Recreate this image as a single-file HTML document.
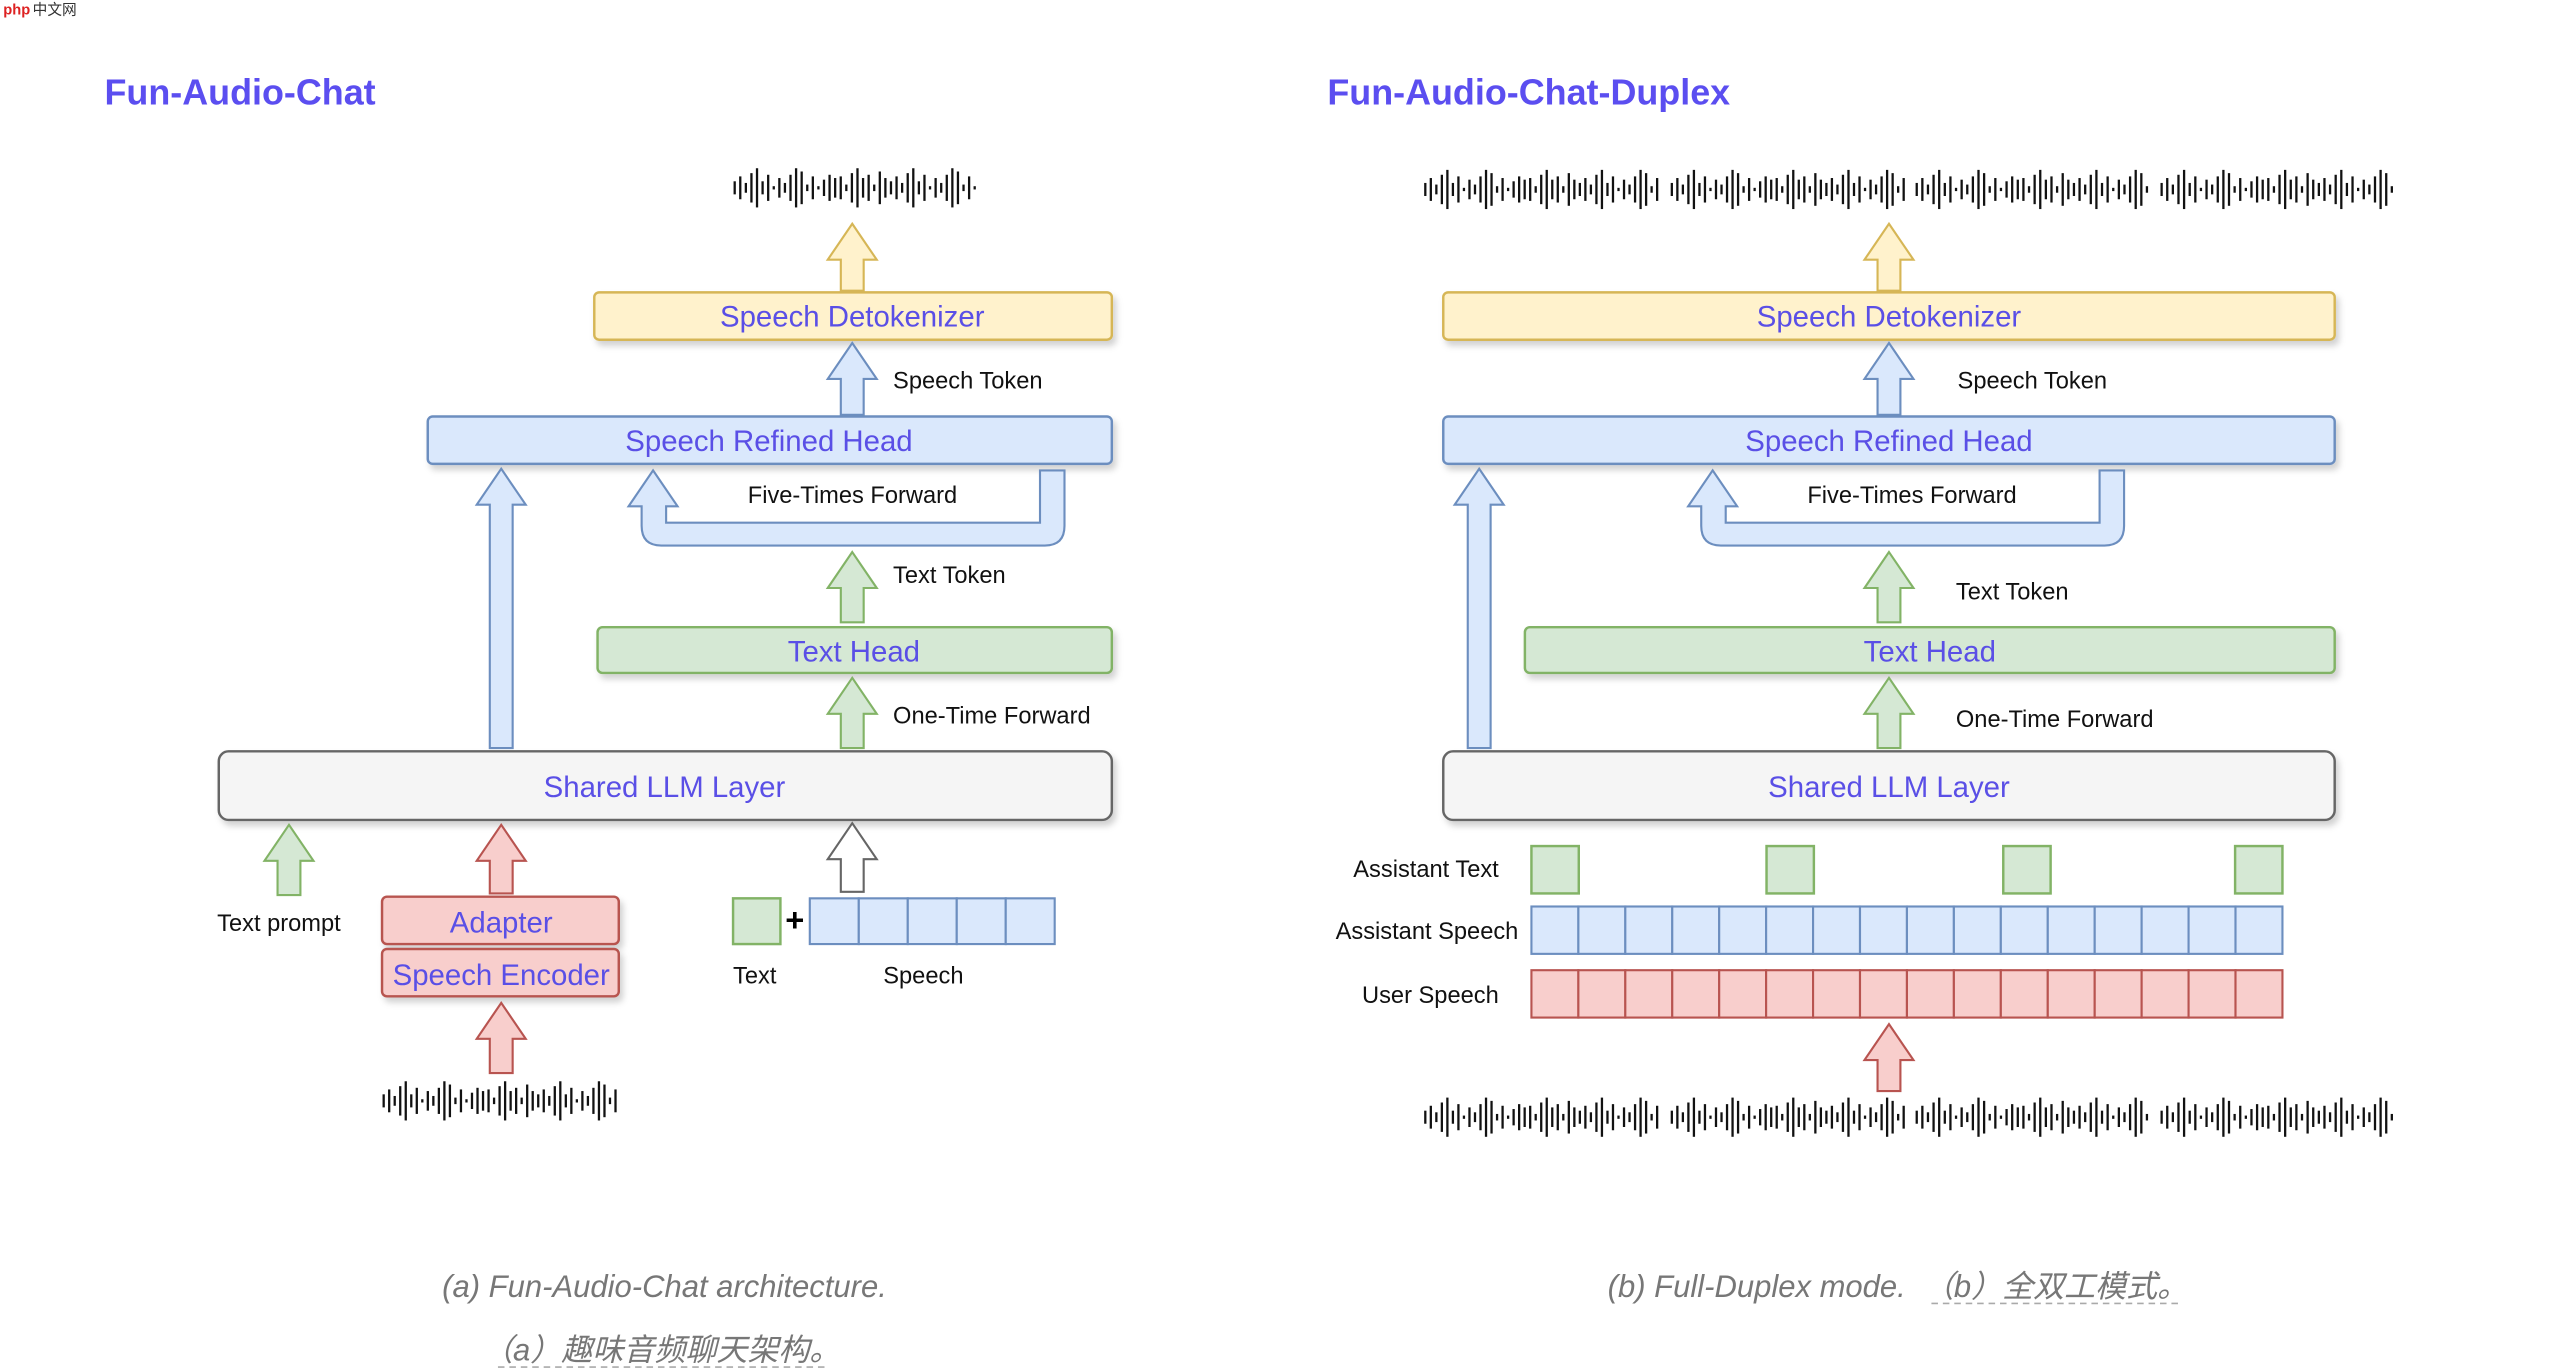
<!DOCTYPE html>
<html><head><meta charset="utf-8"><style>
html,body{margin:0;padding:0;background:#fff;width:2560px;height:1372px;overflow:hidden}
svg{display:block}
.t{font-family:"Liberation Sans","Noto Sans CJK SC",sans-serif}
.lbl{font-family:"Liberation Sans",sans-serif;font-size:14.5px;fill:#111}
.box{font-family:"Liberation Sans",sans-serif;font-size:18px;fill:#5a4fe6;text-anchor:middle}
.ttl{font-family:"Liberation Sans",sans-serif;font-size:22px;font-weight:bold;fill:#5b4ef0}
.cap{font-family:"Liberation Sans","Noto Sans CJK SC",sans-serif;font-size:19px;font-style:italic;fill:#777}
</style></head><body>
<svg id="s" width="2560" height="1372" viewBox="0 0 1568 840" preserveAspectRatio="none" xmlns="http://www.w3.org/2000/svg">
<defs><filter id="sh" x="-5%" y="-30%" width="110%" height="170%"><feDropShadow dx="2" dy="3" stdDeviation="2" flood-color="#000" flood-opacity="0.18"/></filter></defs>
<text x="2" y="9" font-size="9" fill="#d22" class="t" font-weight="bold">php</text><text x="20" y="9" font-size="9" fill="#333" class="t">中文网</text>

<text x="64" y="64" class="ttl">Fun-Audio-Chat</text>
<text x="813" y="64" class="ttl">Fun-Audio-Chat-Duplex</text>

<g id="boxes">
<rect x="364" y="179" width="317" height="29" rx="3" fill="#fff2cc" stroke="#d6b656" stroke-width="1.5" filter="url(#sh)"/>
<text x="522" y="200" class="box">Speech Detokenizer</text>
<rect x="262" y="255" width="419" height="29" rx="3" fill="#dae8fc" stroke="#6c8ebf" stroke-width="1.5" filter="url(#sh)"/>
<text x="471" y="276" class="box">Speech Refined Head</text>
<rect x="366" y="384" width="315" height="28" rx="3" fill="#d5e8d4" stroke="#82b366" stroke-width="1.5" filter="url(#sh)"/>
<text x="523" y="405" class="box">Text Head</text>
<rect x="134" y="460" width="547" height="42" rx="6" fill="#f5f5f5" stroke="#666" stroke-width="1.5" filter="url(#sh)"/>
<text x="407" y="488" class="box">Shared LLM Layer</text>
<rect x="234" y="549" width="145" height="29" rx="3" fill="#f8cecc" stroke="#b85450" stroke-width="1.5" filter="url(#sh)"/>
<text x="307" y="571" class="box">Adapter</text>
<rect x="234" y="581" width="145" height="29" rx="3" fill="#f8cecc" stroke="#b85450" stroke-width="1.5" filter="url(#sh)"/>
<text x="307" y="603" class="box">Speech Encoder</text>

<rect x="884" y="179" width="546" height="29" rx="3" fill="#fff2cc" stroke="#d6b656" stroke-width="1.5" filter="url(#sh)"/>
<text x="1157" y="200" class="box">Speech Detokenizer</text>
<rect x="884" y="255" width="546" height="29" rx="3" fill="#dae8fc" stroke="#6c8ebf" stroke-width="1.5" filter="url(#sh)"/>
<text x="1157" y="276" class="box">Speech Refined Head</text>
<rect x="934" y="384" width="496" height="28" rx="3" fill="#d5e8d4" stroke="#82b366" stroke-width="1.5" filter="url(#sh)"/>
<text x="1182" y="405" class="box">Text Head</text>
<rect x="884" y="460" width="546" height="42" rx="6" fill="#f5f5f5" stroke="#666" stroke-width="1.5" filter="url(#sh)"/>
<text x="1157" y="488" class="box">Shared LLM Layer</text>
</g>

<text x="547" y="238" class="lbl">Speech Token</text>
<text x="458" y="308" class="lbl">Five-Times Forward</text>
<text x="547" y="357" class="lbl">Text Token</text>
<text x="547" y="443" class="lbl">One-Time Forward</text>
<text x="133" y="570" class="lbl">Text prompt</text>
<text x="449" y="602" class="lbl">Text</text>
<text x="541" y="602" class="lbl">Speech</text>
<text x="481" y="570" font-size="20" font-weight="bold" class="t">+</text>

<text x="1199" y="238" class="lbl">Speech Token</text>
<text x="1107" y="308" class="lbl">Five-Times Forward</text>
<text x="1198" y="367" class="lbl">Text Token</text>
<text x="1198" y="445" class="lbl">One-Time Forward</text>
<text x="918" y="537" class="lbl" text-anchor="end">Assistant Text</text>
<text x="930" y="575" class="lbl" text-anchor="end">Assistant Speech</text>
<text x="918" y="614" class="lbl" text-anchor="end">User Speech</text>

<rect x="449" y="550" width="29" height="28" fill="#d5e8d4" stroke="#82b366" stroke-width="1.5"/>

<g id="dyn"></g>

<text x="407" y="794" class="cap" text-anchor="middle">(a) Fun-Audio-Chat architecture.</text>
<text x="405" y="833" class="cap" text-anchor="middle">（a）趣味音频聊天架构。</text>
<line x1="305" y1="837" x2="505" y2="837" stroke="#aaa" stroke-dasharray="4,3"/>
<text x="1076" y="794" class="cap" text-anchor="middle">(b) Full-Duplex mode.</text>
<text x="1259" y="794" class="cap" text-anchor="middle">（b）全双工模式。</text>
<line x1="1183" y1="798" x2="1335" y2="798" stroke="#aaa" stroke-dasharray="4,3"/>
</svg>
<script>
var g=document.getElementById('dyn'),h='';
function arrow(cx,top,bot,fill,st){var hw=15,sw=7,hh=22;
h+='<polygon points="'+[cx,top,cx+hw,top+hh,cx+sw,top+hh,cx+sw,bot,cx-sw,bot,cx-sw,top+hh,cx-hw,top+hh].join(' ')+'" fill="'+fill+'" stroke="'+st+'" stroke-width="1.3"/>';}
function uarr(lx,rx){var t=288,hh=22;
var p='M'+lx+' '+t+' L'+(lx+15)+' '+(t+hh)+' L'+(lx+8)+' '+(t+hh)+' L'+(lx+8)+' 320 L'+(rx-8)+' 320 L'+(rx-8)+' '+t+' L'+(rx+7)+' '+t+' L'+(rx+7)+' 322 Q'+(rx+7)+' 334 '+(rx-5)+' 334 L'+(lx+5)+' 334 Q'+(lx-7)+' 334 '+(lx-7)+' 322 L'+(lx-7)+' '+(t+hh)+' L'+(lx-15)+' '+(t+hh)+' Z';
h+='<path d="'+p+'" fill="#dae8fc" stroke="#6c8ebf" stroke-width="1.3"/>';}
var Y=['#fff2cc','#d6b656'],B=['#dae8fc','#6c8ebf'],G=['#d5e8d4','#82b366'],R=['#f8cecc','#b85450'],W=['#ffffff','#666666'];
arrow(522,137,178,Y[0],Y[1]);arrow(522,210,254,B[0],B[1]);arrow(307,287,458,B[0],B[1]);
arrow(522,338,381,G[0],G[1]);arrow(522,415,458,G[0],G[1]);
arrow(177,505,548,G[0],G[1]);arrow(307,505,547,R[0],R[1]);arrow(307,614,657,R[0],R[1]);arrow(522,504,546,W[0],W[1]);
uarr(400,645);
arrow(1157,137,178,Y[0],Y[1]);arrow(1157,210,254,B[0],B[1]);arrow(906,287,458,B[0],B[1]);
arrow(1157,338,381,G[0],G[1]);arrow(1157,415,458,G[0],G[1]);arrow(1157,627,668,R[0],R[1]);
uarr(1049,1294);
for(var i=0;i<5;i++)h+='<rect x="'+(496+i*30)+'" y="550" width="30" height="28" fill="#dae8fc" stroke="#6c8ebf" stroke-width="1.3"/>';
[938,1082,1227,1369].forEach(function(x){h+='<rect x="'+x+'" y="518" width="29" height="29" fill="#d5e8d4" stroke="#82b366" stroke-width="1.5"/>';});
var cw=460/16;
for(var i=0;i<16;i++){h+='<rect x="'+(938+i*cw)+'" y="555" width="'+cw+'" height="29" fill="#dae8fc" stroke="#6c8ebf" stroke-width="1.3"/>';
h+='<rect x="'+(938+i*cw)+'" y="594" width="'+cw+'" height="29" fill="#f8cecc" stroke="#b85450" stroke-width="1.3"/>';}
var pat=[4,7,3,9,12,4,8,1,6,3,8,12,10,2,7,1,5,8,6,7,2,9,12,6,8,2,10,6];
function wave(x0,x1,cy){var n=Math.round((x1-x0)/3.4);for(var i=0;i<=n;i++){var v=pat[i%pat.length];var x=x0+i*(x1-x0)/n;
h+='<line x1="'+x+'" y1="'+(cy-v)+'" x2="'+x+'" y2="'+(cy+v)+'" stroke="#111" stroke-width="1.4"/>';}}
wave(450,597,115);wave(235,377,674);
[[873,1015],[1024,1166],[1174,1315],[1324,1465]].forEach(function(s){wave(s[0],s[1],116);wave(s[0],s[1],684);});
g.innerHTML=h;
</script>
</body></html>
